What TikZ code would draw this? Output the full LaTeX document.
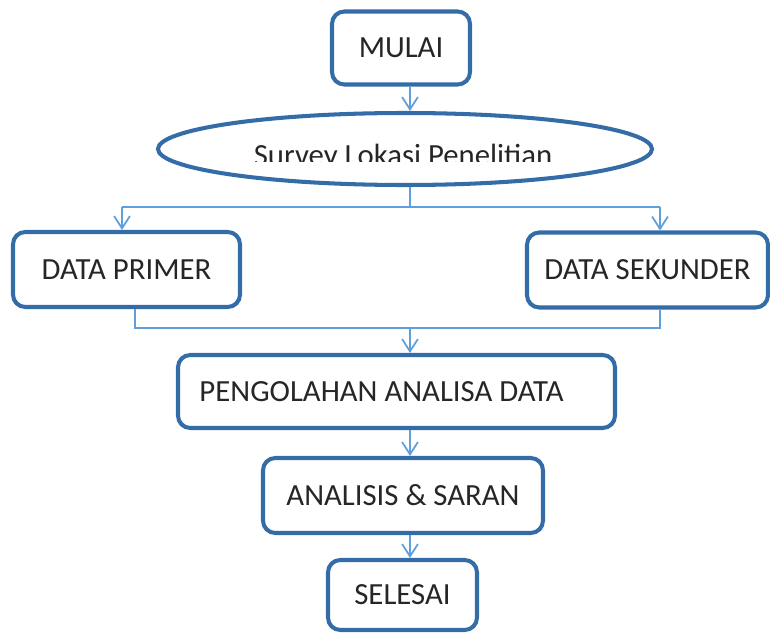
\documentclass[tikz,border=0pt]{standalone}
\usepackage{fontspec}
\setmainfont{Carlito}
\usetikzlibrary{arrows.meta,positioning,calc,shapes.geometric}
\definecolor{boxblue}{RGB}{52,108,168}
\definecolor{lineblue}{RGB}{95,160,220}
\definecolor{txtgray}{RGB}{38,38,38}

\begin{document}
\begin{tikzpicture}[
  every node/.style={font=\fontsize{17.5}{20}\selectfont, text=txtgray},
  stepbox/.style={draw=boxblue, line width=2.3pt, rounded corners=7pt, fill=white, inner sep=0pt},
  oval/.style={draw=boxblue, line width=2.3pt, ellipse, inner sep=0pt},
  link/.style={draw=lineblue, line width=1pt},
  arr/.style={link, -{Straight Barb[length=7pt, width=9pt, line width=1pt]}}]
\useasboundingbox (0,0) rectangle (15.4,12.66);
\node[stepbox, minimum width=2.76cm, minimum height=1.46cm] (mulai) at (8.02,11.70) {MULAI};
\node[oval, minimum width=9.88cm, minimum height=1.44cm] (survey) at (8.10,9.68) {};
\begin{scope}
  \clip (3,9.42) rectangle (13,10.5);
  \node[anchor=base] (surveytxt) at (8.06,9.34) {Survey Lokasi Penelitian};
\end{scope}
\node[stepbox, minimum width=4.54cm, minimum height=1.5cm] (primer) at (2.53,7.27) {DATA PRIMER};
\node[stepbox, minimum width=4.82cm, minimum height=1.5cm] (sekunder) at (12.95,7.26) {DATA SEKUNDER};
\node[stepbox, minimum width=8.74cm, minimum height=1.46cm] (olah) at (7.93,4.83) {PENGOLAHAN ANALISA DATA\hspace*{0.6cm}};
\node[stepbox, minimum width=5.6cm, minimum height=1.5cm] (analisis) at (8.06,2.75) {ANALISIS \& SARAN};
\node[stepbox, minimum width=2.98cm, minimum height=1.4cm] (selesai) at (8.05,0.76) {SELESAI};
% branch and join points
\coordinate (split) at (8.2,8.52);
\coordinate (lft) at (2.44,8.52);
\coordinate (rgt) at (13.2,8.52);
\coordinate (join) at (8.2,6.1);
\coordinate (jl) at (2.7,6.1);
\coordinate (jr) at (13.2,6.1);
\draw[arr] (mulai.south -| split) -- (survey.north -| split);
\draw[link] (survey.south -| split) -- (split);
\draw[link] (lft) -- (rgt);
\draw[arr] (lft) -- (lft |- primer.north);
\draw[arr] (rgt) -- (rgt |- sekunder.north);
\draw[link] (jl |- primer.south) -- (jl) -- (jr) -- (jr |- sekunder.south);
\draw[arr] (join) -- (join |- olah.north);
\draw[arr] (olah.south -| join) -- (analisis.north -| join);
\draw[arr] (analisis.south -| join) -- (selesai.north -| join);
\end{tikzpicture}
\end{document}
